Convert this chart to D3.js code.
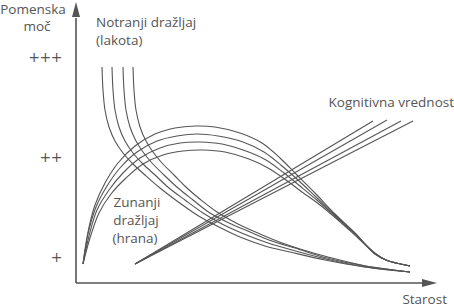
<!DOCTYPE html>
<html>
<head>
<meta charset="utf-8">
<script src="https://cdn.jsdelivr.net/npm/d3@7"></script>
<style>
    body { margin: 0; background: #fff; }
    svg text { font-family: "Open Sans", sans-serif; fill: #555; }
</style>
</head>
<body>
<svg width="454" height="308"></svg>
<script>
// strength ticks on the y axis
var tickValues = [26, 126, 226];
var tickLabels = ["+", "++", "+++"];

// internal stimulus (hunger), 4 curves: [age, strength]
var lakota1 = [[26,216],[27,193],[29,173],[33,156],[39,142],[47,130],[57,119],[69,108],[84,95],[101,82],[121,68],[141,57],[164,46],[189,37],[214,31],[249,23],[289,16],[334,11]];
var lakota2 = [[36,216],[37,193],[39,173],[43,156],[49,142],[57,130],[67,119],[79,108],[93,95],[109,83],[127,70],[146,59],[168,49],[192,40],[216,33],[250,24],[289,16],[334,11]];
var lakota3 = [[47,216],[48,193],[50,173],[54,156],[60,142],[67,131],[76,120],[88,108],[102,95],[117,83],[134,70],[153,60],[174,51],[196,42],[219,35],[251,25],[289,17],[334,11]];
var lakota4 = [[57,216],[58,193],[60,173],[64,156],[70,142],[77,131],[86,120],[98,108],[111,95],[125,83],[141,71],[162,59],[184,49],[206,40],[224,34],[252,26],[290,17],[334,11]];

// external stimulus (food), 4 curves
var hrana1 = [[7,19],[12,51],[19,78],[29,100],[42,120],[59,137],[79,149],[99,155],[119,157],[139,156],[164,150],[186,140],[204,125],[220,109],[239,90],[259,69],[279,50],[299,29],[310,23],[320,20],[334,17]];
var hrana2 = [[7,19],[12,49],[20,76],[31,97],[44,115],[61,131],[81,142],[101,147],[121,149],[142,147],[167,141],[188,131],[206,117],[222,103],[240,86],[260,67],[280,48],[299,29],[310,23],[320,20],[334,17]];
var hrana3 = [[7,19],[13,47],[21,73],[33,93],[47,110],[64,125],[84,135],[104,140],[124,141],[146,139],[170,132],[190,123],[208,110],[224,97],[242,82],[261,65],[281,47],[300,29],[310,23],[320,20],[334,17]];
var hrana4 = [[7,19],[14,45],[23,70],[35,89],[50,105],[67,119],[87,128],[107,132],[127,133],[149,131],[173,124],[192,115],[210,103],[226,91],[244,78],[262,63],[282,45],[300,29],[310,23],[320,20],[334,17]];

// cognitive value, 4 straight lines
var kognitivna1 = [[59,19],[297,162]];
var kognitivna2 = [[59,19],[311,163]];
var kognitivna3 = [[59,19],[325,162]];
var kognitivna4 = [[59,19],[337,162]];

var svg = d3.select("svg");
var ink = "#555";

var x = d3.scaleLinear().domain([0, 361]).range([76, 437]);
var y = d3.scaleLinear().domain([0, 280]).range([283, 3]);

var line = d3.line()
    .x(function(d) { return x(d[0]); })
    .y(function(d) { return y(d[1]); })
    .curve(d3.curveCatmullRom.alpha(0.5));

var series = [lakota1, lakota2, lakota3, lakota4,
              hrana1, hrana2, hrana3, hrana4,
              kognitivna1, kognitivna2, kognitivna3, kognitivna4];

svg.selectAll(".curve")
    .data(series)
    .enter()
    .append("path")
    .attr("class", "curve")
    .attr("d", line)
    .attr("fill", "none")
    .attr("stroke", ink)
    .attr("stroke-width", 1.1);

// AXES
svg.append("line")
    .attr("x1", x(0)).attr("y1", y(0))
    .attr("x2", x(0)).attr("y2", y(265))
    .attr("stroke", ink).attr("stroke-width", 1.6);
svg.append("line")
    .attr("x1", x(0)).attr("y1", y(0))
    .attr("x2", x(348)).attr("y2", y(0))
    .attr("stroke", ink).attr("stroke-width", 1.6);

// arrow heads
svg.append("path")
    .attr("d", "M" + x(0) + "," + y(281) + "L" + (x(0) - 4) + "," + y(266) + "L" + (x(0) + 4) + "," + y(266) + "Z")
    .attr("fill", ink);
svg.append("path")
    .attr("d", "M" + x(361) + "," + y(0) + "L" + x(346) + "," + (y(0) - 4) + "L" + x(346) + "," + (y(0) + 4) + "Z")
    .attr("fill", ink);

var yAxis = d3.axisLeft(y)
    .tickValues(tickValues)
    .tickFormat(function(d, i) { return tickLabels[i]; })
    .tickSize(0)
    .tickPadding(14);
var gy = svg.append("g")
    .attr("transform", "translate(" + x(0) + ",0)")
    .call(yAxis);
gy.select(".domain").remove();
gy.selectAll("text")
    .attr("font-family", null)
    .style("font-family", "'DejaVu Sans', sans-serif")
    .style("font-size", "14px")
    .style("letter-spacing", "-0.5px")
    .attr("fill", ink);

// LABELS
function label(txt, px, py, anchor) {
    svg.append("text")
        .attr("x", px).attr("y", py)
        .attr("text-anchor", anchor || "start")
        .style("font-size", "13.5px")
        .text(txt);
}
label("Pomenska", 33, 14, "middle");
label("moč", 37, 31, "middle");
label("Notranji dražljaj", 96, 27);
label("(lakota)", 96, 45);
label("Kognitivna vrednost", 454, 107, "end");
label("Zunanji", 137, 207, "middle");
label("dražljaj", 136, 225, "middle");
label("(hrana)", 135, 243, "middle");
label("Starost", 447, 304, "end");
</script>
</body>
</html>
